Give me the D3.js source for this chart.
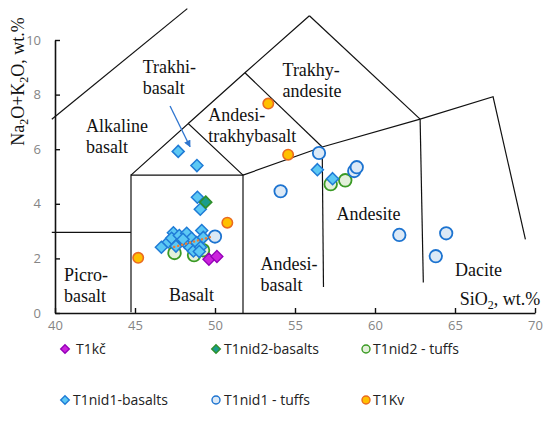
<!DOCTYPE html>
<html>
<head>
<meta charset="utf-8">
<script src="https://cdn.jsdelivr.net/npm/d3@7/dist/d3.min.js"></script>
<style>
  html,body{margin:0;padding:0;background:#fff;}
  svg{display:block;}
</style>
</head>
<body>
<svg id="chart" width="550" height="424"></svg>
<script>
// ---------- DATA ----------
const xTicks = [40, 45, 50, 55, 60, 65, 70];
const yTicks = [0, 2, 4, 6, 8, 10];

const seriesNames = ["T1kč", "T1nid2-basalts", "T1nid2 - tuffs", "T1nid1-basalts", "T1nid1 - tuffs", "T1Kv"];

const t1kc = [[49.62, 1.97], [50.12, 2.07]];
const t1nid2Basalts = [[49.42, 4.06]];
const t1nid2Tuffs = [[47.47, 2.2], [48.69, 2.12], [49.25, 2.3], [57.23, 4.72], [58.14, 4.86]];
const t1nid1Basalts = [
  [47.7, 5.92], [48.87, 5.4], [48.9, 4.24], [49.08, 3.8], [56.4, 5.25], [57.35, 4.92],
  [46.65, 2.41], [47.08, 2.6], [47.4, 2.94], [47.29, 2.74], [47.56, 2.45], [47.77, 2.84],
  [48.13, 2.58], [48.23, 2.92], [48.44, 2.4], [48.54, 2.74], [48.65, 2.27], [48.85, 2.58],
  [49.1, 2.41], [49.17, 3.02], [49.27, 2.77], [49.02, 2.25], [48.0, 2.7]
];
const t1nid1Tuffs = [[50.0, 2.8], [54.1, 4.46], [56.5, 5.86], [58.7, 5.2], [58.86, 5.34], [61.52, 2.86], [63.8, 2.08], [64.45, 2.92]];
const t1kv = [[45.2, 2.02], [50.77, 3.31], [53.33, 7.67], [54.57, 5.8]];

const trendX = [47.45, 49.7];
const trendY = [2.42, 2.78];

// TAS field boundaries (SiO2, Na2O+K2O)
const boundaries = [
  [[39.8, 7.1], [48.27, 11.15]],
  [[39.8, 2.95], [44.75, 2.95]],
  [[44.75, 0.03], [44.75, 5.05], [51.75, 5.05], [51.75, 0]],
  [[44.75, 5.05], [48.33, 6.94], [51.75, 5.05]],
  [[48.33, 6.94], [51.87, 8.8], [55.9, 10.89]],
  [[51.87, 8.8], [56.7, 6.08]],
  [[56.7, 6.08], [56.78, 0.95]],
  [[55.9, 10.89], [62.82, 7.1]],
  [[62.82, 7.1], [63.02, 1.12]],
  [[51.75, 5.05], [56.7, 6.08], [62.82, 7.1], [67.38, 7.92], [69.4, 2.7]]
];
const arrowFrom = [47.19, 7.58];
const arrowTo = [48.44, 6.09];

const fieldLabels = [
  {lines: ["Trakhi-", "basalt"], at: [45.48, 8.8]},
  {lines: ["Trakhy-", "andesite"], at: [54.22, 8.68]},
  {lines: ["Andesi-", "trakhybasalt"], at: [49.58, 7.03]},
  {lines: ["Alkaline", "basalt"], at: [41.94, 6.63]},
  {lines: ["Andesite"], at: [57.6, 3.4]},
  {lines: ["Picro-", "basalt"], at: [40.56, 1.17]},
  {lines: ["Basalt"], at: [47.12, 0.44]},
  {lines: ["Andesi-", "basalt"], at: [52.85, 1.58]},
  {lines: ["Dacite"], at: [65.0, 1.35]}
];

// ---------- CHART ----------
const svg = d3.select("#chart");
const x = d3.scaleLinear().domain([40, 70]).range([55, 535]);
const y = d3.scaleLinear().domain([0, 10]).range([313, 40]);

const serif = "'Liberation Serif','Times New Roman',serif";
const sans = "'Open Sans','Liberation Sans',Arial,sans-serif";

// boundaries
const line = d3.line().x(d => x(d[0])).y(d => y(d[1]));
svg.append("g").selectAll("path").data(boundaries).join("path")
  .attr("d", line).attr("fill", "none").attr("stroke", "#111").attr("stroke-width", 1.2);

// axes
const xAxis = d3.axisBottom(x).tickValues(xTicks).tickSize(-5).tickSizeOuter(0).tickPadding(8);
const gx = svg.append("g").attr("transform", `translate(0,${y(0)})`).call(xAxis);
const yAxis = d3.axisLeft(y).tickValues(yTicks).tickSize(-5).tickSizeOuter(0).tickPadding(14);
const gy = svg.append("g").attr("transform", `translate(${x(40)},0)`).call(yAxis);
[gx, gy].forEach(g => {
  g.select(".domain").attr("stroke", "#111").attr("stroke-width", 1.6);
  g.selectAll(".tick line").attr("stroke", "#111").attr("stroke-width", 1.4);
  g.selectAll(".tick text").attr("fill", "#858585").style("font-family", sans).style("font-size", "13px");
});

// arrow
svg.append("defs").append("marker").attr("id", "ah").attr("viewBox", "0 0 10 10")
  .attr("refX", 9).attr("refY", 5).attr("markerWidth", 7).attr("markerHeight", 7)
  .attr("markerUnits", "userSpaceOnUse").attr("orient", "auto")
  .append("path").attr("d", "M0,0 L10,5 L0,10 z").attr("fill", "#2e75cf");
svg.append("line")
  .attr("x1", x(arrowFrom[0])).attr("y1", y(arrowFrom[1]))
  .attr("x2", x(arrowTo[0])).attr("y2", y(arrowTo[1]))
  .attr("stroke", "#2e75cf").attr("stroke-width", 1.3).attr("marker-end", "url(#ah)");

// field labels
fieldLabels.forEach(l => {
  const t = svg.append("text").attr("x", x(l.at[0])).attr("y", y(l.at[1]))
    .style("font-family", serif).style("font-size", "18px").attr("fill", "#111");
  l.lines.forEach((s, i) => t.append("tspan").attr("x", x(l.at[0])).attr("dy", i ? 21 : 0).text(s));
});

// axis titles
const xt = svg.append("text").attr("x", x(65.3)).attr("y", y(0.29))
  .style("font-family", serif).style("font-size", "18px").attr("fill", "#111");
xt.append("tspan").text("SiO");
xt.append("tspan").attr("dy", 4).style("font-size", "12px").text("2");
xt.append("tspan").attr("dy", -4).text(", wt.%");

const yt = svg.append("text").attr("transform", "translate(24,81.5) rotate(-90)")
  .attr("text-anchor", "middle")
  .style("font-family", serif).style("font-size", "18px").attr("fill", "#111");
yt.append("tspan").text("Na");
yt.append("tspan").attr("dy", 4).style("font-size", "12px").text("2");
yt.append("tspan").attr("dy", -4).text("O+K");
yt.append("tspan").attr("dy", 4).style("font-size", "12px").text("2");
yt.append("tspan").attr("dy", -4).text("O, wt.%");

// series styles
const styles = {
  "T1kč": {shape: "diamond", fill: "#cc22dd", stroke: "#9400b8", r: 6, sw: 1.3},
  "T1nid2-basalts": {shape: "diamond", fill: "#1a9c8c", stroke: "#2f8f2a", r: 6, sw: 1.6},
  "T1nid2 - tuffs": {shape: "circle", fill: "#e3f0da", stroke: "#3a9a24", r: 6.3, sw: 1.8},
  "T1nid1-basalts": {shape: "diamond", fill: "#5cc8f4", stroke: "#1f7bd6", r: 6, sw: 1.5},
  "T1nid1 - tuffs": {shape: "circle", fill: "#dce9f6", stroke: "#1c73d0", r: 6.2, sw: 1.8},
  "T1Kv": {shape: "circle", fill: "#ffc000", stroke: "#ea6a20", r: 5.2, sw: 1.6}
};
const seriesData = {
  "T1kč": t1kc, "T1nid2-basalts": t1nid2Basalts, "T1nid2 - tuffs": t1nid2Tuffs,
  "T1nid1-basalts": t1nid1Basalts, "T1nid1 - tuffs": t1nid1Tuffs, "T1Kv": t1kv
};
function drawMarker(g, st, cx, cy, r) {
  if (st.shape === "diamond") {
    g.append("path").attr("d", `M${cx},${cy - r}L${cx + r},${cy}L${cx},${cy + r}L${cx - r},${cy}Z`)
      .attr("fill", st.fill).attr("stroke", st.stroke).attr("stroke-width", st.sw);
  } else {
    g.append("circle").attr("cx", cx).attr("cy", cy).attr("r", r)
      .attr("fill", st.fill).attr("stroke", st.stroke).attr("stroke-width", st.sw);
  }
}
const drawOrder = ["T1nid2 - tuffs", "T1nid1-basalts", "T1nid2-basalts", "T1kč", "T1nid1 - tuffs", "T1Kv"];
const pts = svg.append("g");
drawOrder.forEach(name => {
  const st = styles[name];
  const g = pts.append("g");
  seriesData[name].forEach(d => drawMarker(g, st, x(d[0]), y(d[1]), st.r));
});

// trend line
svg.append("path").attr("d", line(trendX.map((v, i) => [v, trendY[i]])))
  .attr("fill", "none").attr("stroke", "#ed7d31").attr("stroke-width", 2.4)
  .attr("stroke-dasharray", "0.1,4").attr("stroke-linecap", "round");

// legend
const legPos = [[65, 349, 76], [216, 349, 224], [366, 349, 373], [65, 400, 73], [216, 400, 224], [366, 400, 373]];
const legOrder = ["T1kč", "T1nid2-basalts", "T1nid2 - tuffs", "T1nid1-basalts", "T1nid1 - tuffs", "T1Kv"];
const leg = svg.append("g");
legOrder.forEach((name, i) => {
  const st = styles[name];
  const [mx, my, tx] = legPos[i];
  drawMarker(leg, {...st, sw: 1.4}, mx, my, st.shape === "diamond" ? 4.3 : 4);
  leg.append("text").attr("x", tx).attr("y", my).attr("dy", "0.35em")
    .style("font-family", sans).style("font-size", "14px").attr("fill", "#222").text(name);
});
</script>
</body>
</html>
